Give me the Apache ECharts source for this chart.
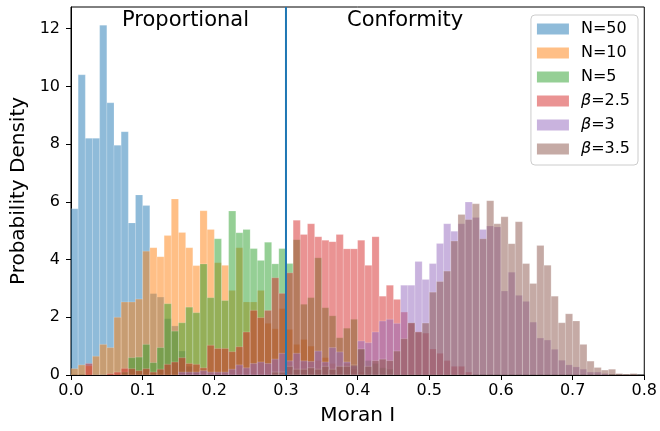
<!DOCTYPE html>
<html>
<head>
<meta charset="utf-8">
<script src="https://cdn.jsdelivr.net/npm/echarts@6/dist/echarts.min.js"></script>
<style>
  html, body { margin: 0; padding: 0; background: #fff; }
  #chart { width: 660px; height: 431px; }
</style>
</head>
<body>
<div id="chart"></div>
<script>
// histogram bins are 0.01 wide, each series starts at its own first bin
var binWidth = 0.01;
var seriesNames = ["N=50", "N=10", "N=5", "β=2.5", "β=3", "β=3.5"];
var seriesColors = [
  "rgba(31,119,180,0.5)",
  "rgba(255,127,14,0.5)",
  "rgba(44,160,44,0.5)",
  "rgba(214,39,40,0.5)",
  "rgba(148,103,189,0.5)",
  "rgba(140,86,75,0.5)"
];
var seriesStarts = [0, 0, 0.07, 0.02, 0.15, 0.28];

var n50 = [5.76, 10.4, 8.2, 8.2, 12.12, 9.43, 7.96, 8.43, 5.27, 6.24, 5.87, 2.82, 2.7, 1.95, 1.7, 0.83, 0.3, 0.1];
var n10 = [0.22, 0.35, 0.32, 0.65, 1.06, 0.95, 2.0, 2.53, 2.53, 2.63, 4.29, 4.41, 4.1, 4.83, 6.1, 4.94, 4.41, 3.79, 5.69, 5.04,
  3.89, 3.8, 2.93, 4.41, 2.53, 2.53, 2.93, 1.79, 1.6, 2.3, 1.58, 1.06, 1.23, 1.0, 0.5, 0.6, 0.4, 0.3, 0.4, 0.2, 0.1];
var n5 = [0.1, 0.6, 0.62, 1.06, 0.43, 0.95, 2.47, 1.52, 1.81, 2.35, 2.16, 3.85, 2.68, 4.72, 2.58, 5.68, 4.93, 5.04, 4.38, 3.97,
  4.6, 3.85, 4.38, 3.86, 4.69, 2.45, 2.68, 4.06, 2.33, 2.05, 1.29, 1.62, 1.93, 0.9, 0.5, 0.4, 0.25, 0.2];
var beta25 = [0.4, 0, 0, 0.05, 0.1, 0.23, 0.22, 0.15, 0.22, 0.1, 0.2, 0.37, 0.45, 0.6, 0.4, 0.37, 0.25, 1.03, 0.92, 0.92,
  0.81, 0.98, 1.49, 2.24, 1.99, 2.24, 3.37, 2.83, 3.54, 5.36, 4.87, 5.24, 4.79, 4.67, 4.62, 4.87, 4.37, 4.37, 4.67, 3.8,
  4.79, 2.73, 3.11, 2.62, 2.18, 1.8, 1.5, 1.45, 0.9, 0.75, 0.5, 0.3, 0.3, 0.1];
var beta3 = [0.1, 0.1, 0.1, 0.15, 0.1, 0.1, 0.1, 0.2, 0.35, 0.25, 0.4, 0.45, 0.4, 0.55, 0.75, 0.49, 0.75, 0.49, 0.47, 0.83,
  0.45, 0.95, 0.8, 0.45, 0.32, 1.18, 1.12, 1.49, 1.87, 1.93, 1.79, 3.11, 3.11, 3.93, 3.31, 3.86, 4.56, 5.24, 4.98, 5.24,
  5.99, 5.46, 5.04, 5.16, 5.13, 2.91, 3.56, 2.76, 2.55, 1.83, 1.28, 1.21, 0.89, 0.51, 0.35, 0.28, 0.2, 0.1, 0.1, 0.05];
var beta35 = [0.1, 0.1, 0.3, 0.2, 0.2, 0.25, 0.2, 0.3, 0.2, 0.3, 0.3, 0.35, 0.9, 0.3, 0.5, 0.55, 0.5, 0.83, 1.26, 1.81,
  1.49, 1.8, 2.87, 3.24, 3.6, 4.64, 5.56, 5.39, 5.93, 4.72, 6.04, 5.24, 5.48, 4.55, 5.31, 3.86, 3.17, 4.49, 3.8, 2.73,
  1.81, 2.12, 1.87, 1.06, 0.48, 0.26, 0.17, 0.2, 0.05, 0.03, 0.05];

var xTicks = [0, 0.1, 0.2, 0.3, 0.4, 0.5, 0.6, 0.7, 0.8];
var yTicks = [0, 2, 4, 6, 8, 10, 12];
var splitValue = 0.3;

(function () {
  var myChart = echarts.init(document.getElementById("chart"));
  var allValues = [n50, n10, n5, beta25, beta3, beta35];
  var font = "DejaVu Sans";

  // [left edge, right edge, density] for each bin
  function toBins(values, start) {
    return values.map(function (v, i) {
      var x0 = +(start + i * binWidth).toFixed(4);
      return [x0, +(x0 + binWidth).toFixed(4), v];
    });
  }

  function makeHist(idx) {
    var color = seriesColors[idx];
    return {
      name: seriesNames[idx],
      type: "custom",
      clip: true,
      itemStyle: { color: color },
      encode: { x: [0, 1], y: 2 },
      data: toBins(allValues[idx], seriesStarts[idx]),
      z: 2 + idx,
      renderItem: function (params, api) {
        var p0 = api.coord([api.value(0), api.value(2)]);
        var p1 = api.coord([api.value(1), 0]);
        return {
          type: "rect",
          shape: { x: p0[0], y: p0[1], width: p1[0] - p0[0], height: p1[1] - p0[1] },
          style: { fill: color, stroke: "rgba(255,255,255,0.3)", lineWidth: 0.6 }
        };
      }
    };
  }

  var series = [];
  for (var i = 0; i < seriesNames.length; i++) series.push(makeHist(i));
  // vertical divider
  series.push({
    type: "line",
    data: [[splitValue, 0], [splitValue, 12.75]],
    showSymbol: false,
    silent: true,
    z: 20,
    lineStyle: { color: "#1f77b4", width: 2 }
  });

  var option = {
    animation: false,
    textStyle: { fontFamily: font },
    grid: { left: 71, right: 14, top: 7, bottom: 55, show: true, borderColor: "#000", borderWidth: 1 },
    legend: {
      data: seriesNames,
      orient: "vertical",
      right: 22,
      top: 15,
      itemWidth: 32,
      itemHeight: 11,
      itemGap: 8,
      padding: [6, 8, 8, 6],
      borderColor: "#cccccc",
      borderWidth: 1,
      borderRadius: 4,
      backgroundColor: "rgba(255,255,255,0.8)",
      icon: "rect",
      textStyle: {
        fontFamily: font, fontSize: 16, color: "#000", lineHeight: 16, padding: [0, 0, 0, 7],
        rich: { i: { fontFamily: font, fontSize: 16, fontStyle: "italic", color: "#000" } }
      },
      formatter: function (name) {
        return name.replace("β", "{i|β}");
      }
    },
    xAxis: {
      type: "value",
      min: 0,
      max: 0.8,
      interval: 0.1,
      name: "Moran I",
      nameLocation: "middle",
      nameGap: 31,
      nameTextStyle: { fontFamily: font, fontSize: 20, color: "#000" },
      axisLine: { show: true, lineStyle: { color: "#000", width: 1 } },
      axisTick: { show: true, inside: false, length: 5, lineStyle: { color: "#000" }, customValues: xTicks },
      axisLabel: {
        color: "#000", fontSize: 16, fontFamily: font, margin: 8, customValues: xTicks,
        formatter: function (v) { return v.toFixed(1); }
      },
      splitLine: { show: false }
    },
    yAxis: {
      type: "value",
      min: 0,
      max: 12.75,
      name: "Probability Density",
      nameLocation: "middle",
      nameGap: 38,
      nameTextStyle: { fontFamily: font, fontSize: 20, color: "#000" },
      axisLine: { show: true, lineStyle: { color: "#000", width: 1 } },
      axisTick: { show: true, inside: false, length: 5, lineStyle: { color: "#000" }, customValues: yTicks },
      axisLabel: { color: "#000", fontSize: 16, fontFamily: font, margin: 11, customValues: yTicks },
      splitLine: { show: false }
    },
    graphic: [
      { type: "text", left: 122, top: 10, z: 30,
        style: { text: "Proportional", fontFamily: font, fontSize: 21, fill: "#000" } },
      { type: "text", left: 347, top: 10, z: 30,
        style: { text: "Conformity", fontFamily: font, fontSize: 21, fill: "#000" } }
    ],
    series: series
  };

  myChart.setOption(option);
  window.addEventListener("resize", function () {
    myChart.resize();
  });
})();
</script>
</body>
</html>
